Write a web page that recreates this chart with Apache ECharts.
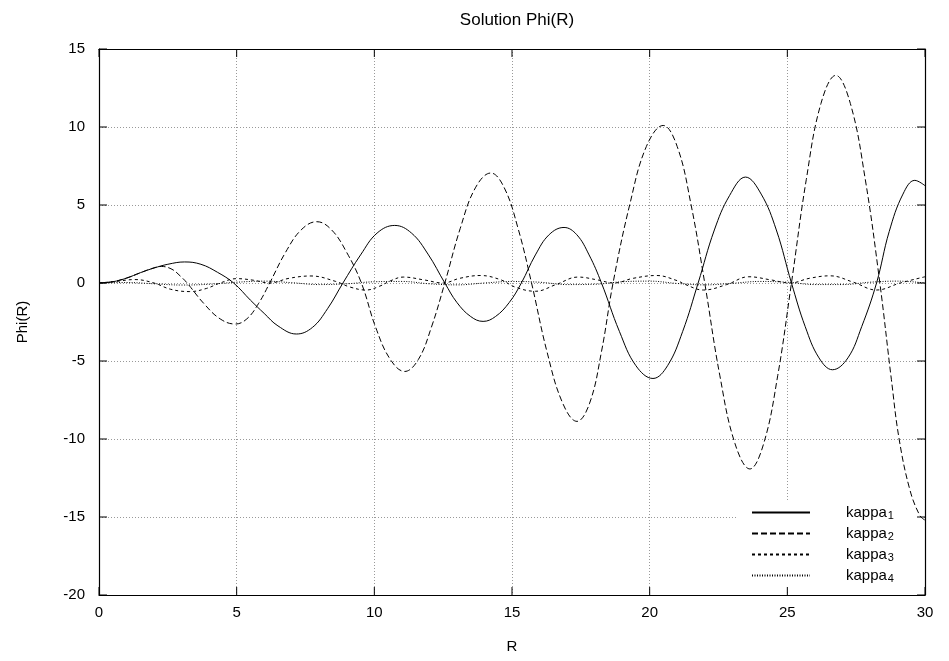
<!DOCTYPE html>
<html>
<head>
<meta charset="utf-8">
<script src="https://cdn.jsdelivr.net/npm/echarts@6/dist/echarts.min.js"></script>
<style>
html,body{margin:0;padding:0;background:#fff;}
#c{width:949px;height:661px;}
</style>
</head>
<body>
<div id="c"></div>
<script>
var xTicks = [0, 5, 10, 15, 20, 25, 30];
var yTicks = [-20, -15, -10, -5, 0, 5, 10, 15];
var seriesNames = ['1', '2', '3', '4'];

var kappa1 = [[0,0],[0.5,0.08],[1.0,0.31],[1.5,0.66],[2.0,0.96],[2.5,1.2],[3.11,1.35],[3.7,1.2],[4.3,0.69],[4.89,0],[5.5,-1.1],[6.0,-1.95],[6.5,-2.75],[7.17,-3.27],[7.75,-2.85],[8.3,-1.65],[8.86,0],[9.5,1.8],[10.1,3.2],[10.74,3.69],[11.35,3.2],[11.95,1.85],[12.56,0],[13.0,-1.25],[13.5,-2.15],[13.95,-2.46],[14.4,-2.15],[14.9,-1.25],[15.34,0],[15.85,1.8],[16.35,3.1],[16.89,3.56],[17.35,3.1],[17.8,1.8],[18.25,0],[18.9,-3.1],[19.5,-5.3],[20.12,-6.12],[20.65,-5.3],[21.2,-3.1],[21.76,0],[22.35,3.4],[22.9,5.6],[23.48,6.79],[24.05,5.7],[24.6,3.4],[25.15,0],[25.65,-2.8],[26.15,-4.8],[26.64,-5.56],[27.2,-4.8],[27.7,-2.8],[28.24,0],[28.7,3.3],[29.2,5.7],[29.63,6.58],[30,6.24]];

var kappa2 = [[0,0],[0.5,0.08],[1.0,0.32],[1.5,0.65],[1.9,0.92],[2.27,1.06],[2.65,0.88],[2.95,0.45],[3.2,0],[3.8,-1.3],[4.4,-2.3],[4.95,-2.63],[5.37,-2.3],[5.8,-1.3],[6.2,0],[6.77,1.95],[7.34,3.4],[7.91,3.93],[8.45,3.4],[9.0,1.95],[9.53,0],[10.05,-2.85],[10.58,-4.9],[11.1,-5.67],[11.6,-4.9],[12.07,-2.85],[12.56,0],[13.12,3.5],[13.67,6.1],[14.23,7.05],[14.72,6.1],[15.22,3.5],[15.71,0],[16.27,-4.4],[16.84,-7.7],[17.36,-8.87],[17.82,-7.7],[18.25,-4.4],[18.67,0],[19.28,5.05],[19.88,8.75],[20.49,10.1],[21.0,8.75],[21.5,5.05],[22.0,0],[22.55,-5.95],[23.1,-10.3],[23.64,-11.92],[24.14,-10.3],[24.65,-5.95],[25.15,0],[25.69,6.65],[26.22,11.5],[26.76,13.31],[27.29,11.5],[27.83,6.65],[28.36,0],[28.78,-6.2],[29.06,-10],[29.45,-13.25],[29.81,-14.9],[30,-15.2]];

var kappa3 = [[0,0],[0.6,0.1],[1.3,0.22],[2.0,0],[2.6,-0.4],[3.3,-0.55],[3.9,-0.35],[4.4,0],[5.0,0.28],[5.6,0.18],[6.2,0],[6.9,0.3],[7.7,0.45],[8.6,0.1],[9.1,-0.25],[9.7,-0.45],[10.2,-0.2],[10.6,0.15],[11.05,0.38],[11.8,0.2],[12.5,0],[13.1,0.3],[13.85,0.48],[14.6,0.2],[15.1,-0.25],[15.85,-0.53],[16.6,-0.1],[17.4,0.38],[18.1,0.2],[18.7,0],[19.4,0.3],[20.25,0.48],[21.0,0.15],[21.3,-0.1],[21.95,-0.45],[22.8,-0.1],[23.6,0.4],[24.4,0.2],[25.1,0],[25.8,0.3],[26.55,0.46],[27.4,0.05],[28.24,-0.45],[29.1,0],[30,0.4]];

var kappa4 = [[0,0],[1,0.03],[2,-0.05],[3,-0.13],[4,-0.08],[5,0.05],[6,0.12],[7,0.02],[8,-0.1],[9,-0.05],[10,0.08],[11,0.1],[12,-0.05],[13,-0.12],[14,0.0],[15,0.1],[16,0.05],[17,-0.1],[18,-0.08],[19,0.08],[20,0.12],[21,-0.03],[22,-0.12],[23,-0.02],[24,0.1],[25,0.05],[26,-0.1],[27,-0.1],[28,0.05],[29,0.12],[30,0.0]];

var FONT = '"Liberation Sans", Arial, Helvetica, sans-serif';
var chart = echarts.init(document.getElementById('c'), null, {renderer: 'canvas'});

var dashes = ['solid', [6, 3], [3, 3], [1, 1.5]];
var datas = [kappa1, kappa2, kappa3, kappa4];
var X_MIN = 0, X_MAX = 30, Y_MIN = -20, Y_MAX = 15, TICK = 8;

var series = datas.map(function (d, i) {
  return {
    name: 'kappa' + seriesNames[i],
    type: 'line',
    xAxisIndex: 0,
    yAxisIndex: 0,
    data: d,
    smooth: 0.4,
    symbol: 'none',
    showSymbol: false,
    z: 3,
    lineStyle: {color: '#000', width: 1, type: dashes[i]},
    itemStyle: {color: '#000'},
    animation: false
  };
});

var tickStyle = {stroke: '#000', lineWidth: 1};

// Inward tick marks on all four sides, placed through the axes' own scales
series.push({
  name: 'xticks', type: 'custom', xAxisIndex: 0, yAxisIndex: 0, z: 8, silent: true, clip: false,
  data: xTicks.map(function (v) { return [v, 0]; }),
  renderItem: function (params, api) {
    var v = api.value(0);
    var b = api.coord([v, Y_MIN]);
    var t = api.coord([v, Y_MAX]);
    return {type: 'group', children: [
      {type: 'line', shape: {x1: b[0], y1: b[1], x2: b[0], y2: b[1] - TICK}, style: tickStyle},
      {type: 'line', shape: {x1: t[0], y1: t[1], x2: t[0], y2: t[1] + TICK}, style: tickStyle}
    ]};
  }
});
series.push({
  name: 'yticks', type: 'custom', xAxisIndex: 0, yAxisIndex: 0, z: 8, silent: true, clip: false,
  data: yTicks.map(function (v) { return [0, v]; }),
  renderItem: function (params, api) {
    var v = api.value(1);
    var l = api.coord([X_MIN, v]);
    var r = api.coord([X_MAX, v]);
    return {type: 'group', children: [
      {type: 'line', shape: {x1: l[0], y1: l[1], x2: l[0] + TICK, y2: l[1]}, style: tickStyle},
      {type: 'line', shape: {x1: r[0], y1: r[1], x2: r[0] - TICK, y2: r[1]}, style: tickStyle}
    ]};
  }
});

function axLine() { return {show: true, onZero: false, lineStyle: {color: '#000', width: 1.2}}; }
function gridLine() { return {show: true, lineStyle: {color: '#999', width: 1, type: [1, 2]}}; }
function labelStyle() { return {fontFamily: FONT, fontSize: 15, color: '#000'}; }

var option = {
  animation: false,
  backgroundColor: '#fff',
  textStyle: {fontFamily: FONT},
  title: {
    text: 'Solution Phi(R)',
    left: 512, top: 7, textAlign: 'center',
    textStyle: {fontFamily: FONT, fontSize: 17, fontWeight: 'normal', color: '#000'}
  },
  grid: {
    left: 99, right: 24, top: 49, bottom: 66,
    show: false
  },
  legend: {
    orient: 'vertical',
    left: 737, top: 501,
    padding: [0, 28, 8, 14],
    itemGap: 1,
    itemWidth: 58, itemHeight: 14,
    backgroundColor: '#fff',
    z: 1,
    itemStyle: {opacity: 0},
    data: ['kappa1', 'kappa2', 'kappa3', 'kappa4'],
    formatter: function (n) { return 'kappa{s|' + n.slice(5) + '}'; },
    textStyle: {
      fontFamily: FONT, fontSize: 15, color: '#000', padding: [0, 0, 0, 31],
      lineHeight: 17,
      rich: {s: {fontFamily: FONT, fontSize: 11, color: '#000', verticalAlign: 'bottom', lineHeight: 17, padding: [9, 0, 0, 1]}}
    }
  },
  xAxis: [
    {
      type: 'value', position: 'bottom', min: X_MIN, max: X_MAX, interval: 5, z: 6,
      name: 'R', nameLocation: 'middle', nameGap: 44,
      nameTextStyle: labelStyle(),
      axisLine: axLine(), axisTick: {show: false},
      axisLabel: {fontFamily: FONT, fontSize: 15, color: '#000', margin: 10},
      splitLine: {show: false}
    },
    {
      type: 'value', position: 'top', min: X_MIN, max: X_MAX, interval: 5, z: 0,
      axisLine: axLine(), axisTick: {show: false},
      axisLabel: {show: false},
      splitLine: gridLine()
    }
  ],
  yAxis: [
    {
      type: 'value', position: 'left', min: Y_MIN, max: Y_MAX, interval: 5, z: 0,
      name: 'Phi(R)', nameLocation: 'middle', nameGap: 69, nameRotate: 90,
      nameTextStyle: labelStyle(),
      axisLine: axLine(), axisTick: {show: false},
      axisLabel: {fontFamily: FONT, fontSize: 15, color: '#000', margin: 14},
      splitLine: gridLine()
    },
    {
      type: 'value', position: 'right', min: Y_MIN, max: Y_MAX, interval: 5, z: 6,
      axisLine: axLine(), axisTick: {show: false},
      axisLabel: {show: false},
      splitLine: {show: false}
    }
  ],
  series: series
};
chart.setOption(option);
</script>
</body>
</html>
